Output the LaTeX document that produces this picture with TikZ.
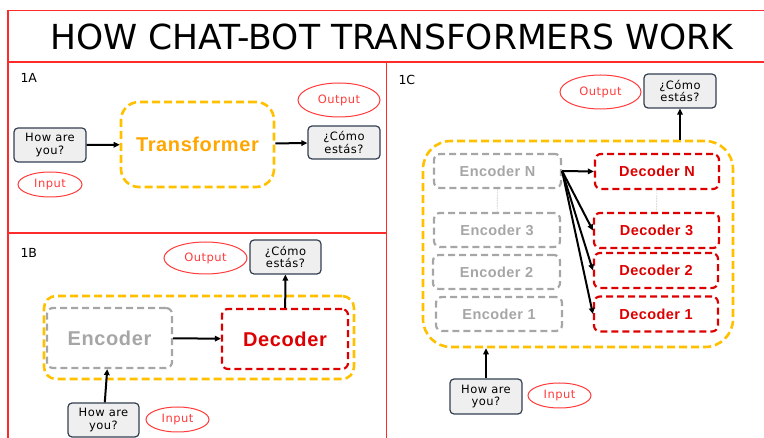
\documentclass[tikz,border=0pt]{standalone}
\usepackage{fontspec}
\setmainfont{DejaVu Sans}
\newfontfamily\blockfont[LetterSpace=3]{Liberation Sans}
\newfontfamily\notefont[LetterSpace=4]{DejaVu Sans}
\usetikzlibrary{shapes.geometric,arrows.meta}
\definecolor{framered}{HTML}{FF2A2A}
\definecolor{bubblered}{HTML}{FF3B3B}
\definecolor{tfyellow}{HTML}{FFC000}
\definecolor{tforange}{HTML}{FFA600}
\definecolor{encgray}{HTML}{A6A6A6}
\definecolor{decred}{HTML}{DD0000}
\definecolor{boxfill}{HTML}{EFEFEF}
\definecolor{boxline}{HTML}{333F50}
\tikzset{
  textbox/.style={draw=boxline,fill=boxfill,line width=1.2pt,rounded corners=4pt,
    minimum width=72pt,minimum height=34pt,inner sep=0pt,align=center,
    font=\notefont\fontsize{11.5}{12.5}\selectfont},
  tag/.style={ellipse,draw=bubblered,line width=1pt,text=bubblered,inner sep=0pt,
    font=\notefont\fontsize{11.5}{12.5}\selectfont},
  frame/.style={draw=tfyellow,line width=2.6pt,dash pattern=on 8pt off 4pt},
  encbox/.style={draw=encgray,text=encgray,line width=2.2pt,dash pattern=on 7pt off 4pt,
    rounded corners=6pt,inner sep=0pt,minimum height=34pt},
  decbox/.style={draw=decred,text=decred,line width=2.2pt,dash pattern=on 7pt off 4pt,
    rounded corners=6pt,inner sep=0pt,minimum height=35pt},
  panel/.style={font=\fontsize{12.5}{14}\selectfont,anchor=west},
  link/.style={-{Triangle[length=6pt,width=5.5pt]},line width=2pt},
}
\begin{document}
\begin{tikzpicture}[x=1pt,y=-1pt]
\useasboundingbox (0,0) rectangle (764,438);
% outline of the sheet
\draw[framered,line width=1.1pt] (764,10.5) -- (8,10.5) -- (8,438);
\draw[framered,line width=1.1pt] (8,62) -- (764,62);
\draw[framered,line width=1.1pt] (386.5,62) -- (386.5,438);
\draw[framered,line width=1.1pt] (8,233) -- (386.5,233);
\node[font=\fontsize{34.5}{38}\selectfont] (title) at (392,37) {HOW CHAT-BOT TRANSFORMERS WORK};

% 1A
\node[panel] (lblA) at (17,78) {1A};
\node[textbox] (inA) at (50,145) {How are\\you?};
\node[frame,rounded corners=18pt,minimum width=153pt,minimum height=85pt,
  text=tforange,font=\blockfont\bfseries\fontsize{20}{24}\selectfont] (tf) at (197.5,144.5) {Transformer};
\node[textbox,minimum height=33pt] (outA) at (344,142.5) {¿Cómo\\estás?};
\node[tag,minimum width=82pt,minimum height=34pt] (tagOutA) at (339,100) {Output};
\node[tag,minimum width=64pt,minimum height=25pt] (tagInA) at (50,184.5) {Input};
\draw[link] (inA) -- (tf);
\draw[link] (tf) -- (outA);

% 1B
\node[panel] (lblB) at (17,253) {1B};
\node[frame,rounded corners=12pt,minimum width=310pt,minimum height=83pt] (frameB) at (199,337.5) {};
\node[encbox,minimum width=125pt,minimum height=60pt,
  font=\blockfont\bfseries\fontsize{20}{24}\selectfont] (encB) at (109.5,338) {Encoder};
\node[decbox,minimum width=126pt,minimum height=60pt,
  font=\blockfont\bfseries\fontsize{20}{24}\selectfont] (decB) at (285,339) {Decoder};
\node[textbox,minimum width=71pt] (outB) at (285.5,257) {¿Cómo\\estás?};
\node[tag,minimum width=83pt,minimum height=32pt] (tagOutB) at (205.5,258) {Output};
\node[textbox,minimum width=71pt] (inB) at (103.5,420) {How are\\you?};
\node[tag,minimum width=63pt,minimum height=25pt] (tagInB) at (177.5,419.5) {Input};
\draw[link] (encB) -- (decB);
\draw[link] (decB) -- (outB);
\draw[link] (inB) -- (encB);

% 1C
\node[panel] (lblC) at (395,80) {1C};
\node[frame,rounded corners=28pt,minimum width=310pt,minimum height=206pt] (frameC) at (578,244) {};
\begin{scope}[every node/.append style={font=\blockfont\bfseries\fontsize{14.5}{17}\selectfont}]
  \node[encbox,minimum width=127pt] (encN) at (497.5,171) {Encoder N};
  \node[encbox,minimum width=126pt] (enc3) at (497,230) {Encoder 3};
  \node[encbox,minimum width=127pt] (enc2) at (496.5,272) {Encoder 2};
  \node[encbox,minimum width=126pt] (enc1) at (499,314) {Encoder 1};
  \node[decbox,minimum width=124pt] (decN) at (657,171.5) {Decoder N};
  \node[decbox,minimum width=125pt] (dec3) at (656.5,230.5) {Decoder 3};
  \node[decbox,minimum width=124pt] (dec2) at (656,270.5) {Decoder 2};
  \node[decbox,minimum width=124pt] (dec1) at (656,314) {Decoder 1};
\end{scope}
\draw[encgray,densely dotted,line width=0.6pt] (encN) -- (enc3);
\draw[encgray,densely dotted,line width=0.6pt] (decN) -- (dec3);
\node[textbox] (outC) at (680,91) {¿Cómo\\estás?};
\node[tag,minimum width=81pt,minimum height=34pt] (tagOutC) at (600.5,92) {Output};
\node[textbox,minimum height=35pt] (inC) at (486,396.5) {How are\\you?};
\node[tag,minimum width=63pt,minimum height=25pt] (tagInC) at (559.5,395.5) {Input};
\coordinate (topC) at (frameC.north -| outC.south);
\coordinate (botC) at (frameC.south -| inC.north);
\foreach \d in {decN,dec3,dec2,dec1}
  \draw[link] (encN.east) -- (\d.west);
\draw[link] (topC) -- (outC);
\draw[link] (inC) -- (botC);
\end{tikzpicture}
\end{document}
